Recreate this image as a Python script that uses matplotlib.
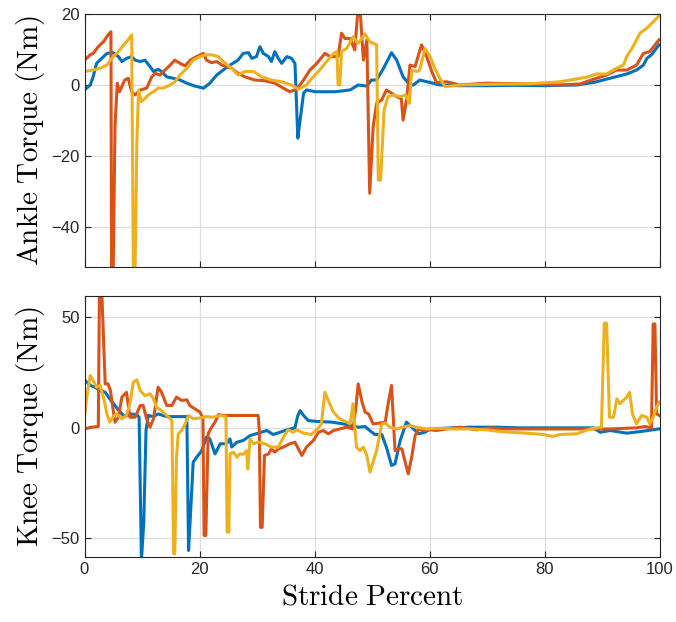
import matplotlib
matplotlib.use("Agg")
import matplotlib.pyplot as plt

# ---------------- data ----------------
stride_ticks = [0, 20, 40, 60, 80, 100]
ankle_ticks = [-40, -20, 0, 20]
knee_ticks = [-50, 0, 50]

# Ankle torque, series 1 (blue)
ankle1_x = [0, 1, 1.5, 2.1, 3, 3.9, 5, 5.9, 6.5, 7.3, 8.2, 8.8, 9.7, 10.5, 11.4, 12, 12.8, 13.4,
            14.3, 15.4, 16.6, 17.8, 19.2, 20.7, 21.8, 23, 24.1, 25.3, 26.7, 27.6, 28.5, 29.1, 29.9,
            30.5, 31.1, 32.0, 32.5, 33.1, 33.7, 34.3, 35.2, 36, 36.6, 37.1, 37.5, 38.1, 38.6, 40.1,
            43.6, 46.2, 47.6, 49.1, 49.9, 50.8, 52.0, 53.4, 54.3, 55.4, 56.6, 57.2, 58.3, 60.1, 61.8,
            65.3, 70, 75, 80, 85.6, 88.5, 91.4, 94.3, 96, 97.2, 97.8, 98.6, 99.9]
ankle1_y = [-1.4, 0, 2.3, 6.1, 7.5, 8.9, 9.1, 8, 6.6, 7.5, 8, 7, 6.6, 7, 5.2, 3.8, 4.4, 3.8,
            2.3, 1.9, 1.4, 0.5, -0.3, -0.9, 0.5, 2.8, 4.2, 5.6, 7, 8.9, 9.1, 7.5, 8,
            10.8, 8.9, 8, 6.6, 9.4, 7.5, 6.1, 8, 7.5, 6.1, -15, -9.9, -2.3, -1.4, -1.9,
            -1.9, -1.4, 0, -0.3, 1.4, 1.4, 4.7, 9.1, 7, 2.3, 0, 0, 1.4, 0.7, 0,
            -0.2, -0.2, -0.1, -0.2, 0, 0.7, 1.9, 3.1, 4.2, 5.6, 7.5, 8.5, 11.3]

# Ankle torque, series 2 (orange)
ankle2_x = [0, 1, 1.5, 2.4, 3.3, 4.1, 4.6, 4.7, 5.0, 5.3, 5.7, 6.1, 6.6, 7.0, 7.6, 8.2, 8.8, 9.7,
            10.8, 11.7, 12.3, 13.1, 14, 14.9, 15.7, 16.6, 17.5, 18.4, 19.5, 20.7, 21.2, 22.1, 23,
            23.9, 25.6, 26.7, 27.9, 29.6, 31.4, 33.1, 34.6, 35.7, 36.9, 38.1, 39.2, 40.4, 41.8,
            42.7, 44.1, 44.7, 45.3, 46.2, 47.0, 47.6, 47.9, 48.5, 49.1, 49.6, 50.2, 50.8, 51.7,
            52.5, 53.4, 54.3, 55.1, 55.4, 56.0, 56.6, 57.5, 58.6, 59.5, 60.4, 61.2, 63, 65.3,
            69.9, 76.9, 82.7, 86.2, 88.5, 90.8, 92.5, 94.3, 96, 97.2, 98.3, 99.9]
ankle2_y = [7, 8.5, 8.9, 10.8, 12.2, 14.1, 15, -52, -52, -11.7, 0.5, -1.9, 0, 1.4, 1.9, -1.9, -2.8, -1.4,
            -0.9, 2.3, 3.3, 2.8, 4.2, 5.6, 7, 6.1, 5.4, 7, 8, 8.9, 7, 6.3, 6.6,
            5.6, 4.7, 3.3, 2.3, 1.4, 1.2, 0.5, -0.9, -1.9, -1.2, 1.4, 4.2, 6.1, 8.9,
            8, 8, 14.6, 13.1, 13.1, 9.9, 22, 22, 7, 12.7, -30.5, -11.7, -5.2, -4.2,
            -1.4, -2.3, -3.3, -3.8, -9.9, -4.2, 5.6, 5.2, 11.3, 8, 3.8, 0.7, 0.9, 0,
            0.5, 0.3, 0, 0.3, 1.6, 2.8, 4.2, 4.2, 5.6, 8.9, 9.4, 12.7]

# Ankle torque, series 3 (yellow)
ankle3_x = [0, 1.5, 2.7, 3.9, 5, 5.9, 6.8, 7.6, 8.2, 8.5, 8.8, 9.1, 9.4, 9.9, 10.5, 11.1, 12, 12.8,
            13.7, 14.9, 15.7, 16.6, 17.8, 18.9, 20.1, 21, 22.1, 23.3, 24.1, 25.6, 26.7, 27.9,
            29.4, 30.8, 32.5, 34.3, 36, 37.2, 38.6, 39.8, 40.9, 42.1, 43.3, 43.9, 44.1, 44.4,
            44.7, 45.6, 46.7, 47.6, 48.8, 49.6, 50.8, 51.1, 51.5, 52.1, 52.8, 53.7, 54.9, 55.9,
            56.5, 56.9, 57.8, 58.3, 59.2, 60.1, 60.9, 61.8, 62.7, 65.3, 71.1, 76.9, 82.7, 87.3,
            89.1, 90.8, 92.5, 93.7, 94.3, 95.4, 96.6, 97.8, 98.9, 99.9]
ankle3_y = [3.8, 4.2, 4.7, 5.6, 8, 9.4, 11.3, 12.7, 14.1, -52, -52, -16.4, -1.4, -4.7, -3.8, -2.8, -1.9, -0.9,
            -0.9, 0, 0.9, 2.8, 4.7, 7, 8, 8.5, 8.5, 8, 6.6, 4.7, 2.8, 3.8,
            3.8, 2.3, 1.4, 0.9, 0, -1.2, 0, 2.3, 4.2, 6.6, 8.9, 9.4, 0, 0,
            9.4, 10.3, 13.6, 11.7, 14.4, 12.2, 11.3, -26.8, -26.8, -7, -3.3, -2.8, -3.3, -2.8,
            -5.2, 4.2, 3.8, 4.2, 10.3, 8, 4.7, 1.9, -0.5, 0, 0.2, 0.3, 0.9, 2.2,
            3.1, 3.1, 4.7, 5.6, 8, 10.8, 14.6, 16, 17.8, 19.4]

# Knee torque, series 1 (blue)
knee1_x = [0, 1, 1.8, 2.7, 3.6, 4.4, 5.3, 6.2, 7, 7.9, 9.1, 9.5, 9.9, 10.3, 10.7, 11.1, 12, 12.8,
           14.3, 16.6, 17.8, 18.1, 18.5, 18.9, 19.5, 20.4, 21.2, 21.8, 22.7, 23.6, 24.7, 25.3,
           25.6, 26.5, 27.6, 28.8, 30.2, 31.7, 32.8, 34, 35.2, 36.6, 37.1, 37.5, 38.1, 38.9,
           40.4, 43, 45.9, 47.6, 48.8, 49.6, 50.5, 51.7, 52.5, 53.4, 54, 54.9, 56, 56.9, 58.1,
           59.2, 60.1, 64.1, 67, 71.7, 75.7, 80, 88.5, 89.7, 91.4, 94.3, 97.2, 99.8]
knee1_y = [21.7, 19.2, 18.4, 16.9, 16.1, 13.1, 10.1, 7.1, 5.1, 6.3, 6, 4.8, -60, -43, -1.2, 5.6, 5.1, 6.3,
           5.1, 5.1, 5.1, -55.5, -35.9, -15.5, -13.3, -10.3, -4.2, -5, -11.8, -7.2, -7.2, -5,
           -8.7, -6.5, -5.7, -3.5, -2.4, -1.2, -3, -2, -0.9, 0, 5.6, 7.8, 5.6, 3.3,
           2.9, 2.6, 1.4, 0.3, 0.6, -1.2, -3, -3, -8.7, -17, -16.3, -5.7, 2.6, 0.3, -2.7,
           -2, -0.5, 0, 0.3, 0.3, 0, 0, 0, -2, -1.2, -2.4, -1.5, -0.5]

# Knee torque, series 2 (orange)
knee2_x = [0, 1.2, 2.4, 2.6, 3.0, 3.6, 4.1, 4.5, 5, 5.3, 5.9, 6.5, 7.3, 7.9, 8.8, 9.7, 10.2, 10.8,
           11.4, 12, 12.8, 13.4, 14.3, 15.2, 16, 16.9, 17.8, 18.3, 19.2, 20.1, 20.6, 20.8, 21.1,
           21.5, 22.1, 22.7, 23.3, 24.1, 27.3, 30.2, 30.4, 30.6, 30.9, 31.3, 32.0, 32.5, 33.1,
           33.7, 34.6, 35.7, 36.6, 37.8, 38.6, 39.8, 40.7, 41.5, 42.4, 43.3, 44.4, 45.6, 46.7,
           47.2, 47.6, 48.2, 48.8, 49.4, 50.2, 51.1, 52.3, 52.8, 53.4, 54, 54.6, 55.2, 55.7,
           56.3, 56.9, 57.5, 58.1, 58.9, 60.1, 61.2, 63, 65.3, 68.2, 70.5, 72.8, 80, 91.4, 96,
           97.5, 98.6, 98.9, 99.2, 99.5, 100]
knee2_y = [-0.5, 0.3, 0.6, 62, 62, 19.9, 19.9, 16.9, 7.8, 2.6, 4.8, 13.9, 16.1, 4.8, 4.8, 10.1, 10.1, 4.1,
           0.3, 4.1, 18.4, 16.1, 10.1, 10.1, 13.9, 12.4, 12.7, 10.1, 8.6, 7.1, 4.1, -48.7, -48.7,
           -2.7, 0.3, 2.6, 6, 5.6, 5.6, 5.6, -1.2, -45, -45, -12.5, -11.8, -9.5, -11,
           -9.5, -8.7, -7.2, -6.5, -12.5, -8.7, -5.7, -2, -1.2, -2.7, -1.2, -0.5, 0.3, -0.5,
           9.4, 19.9, 12.4, 7.1, 6.3, 1.8, 2.1, 2.6, 10.9, 19.2, -10.3, -9.5, -9.5, -14.8,
           -20.8, -13.3, -3.5, -0.5, -1.2, -0.9, -1.2, -0.5, 0.3, -0.9, 0, -0.5, -0.5, -0.5, 0,
           0.6, 0, 47, 47, 6.3, 5.6]

# Knee torque, series 3 (yellow)
knee3_x = [0, 0.4, 1, 1.5, 2.1, 2.7, 3.3, 3.9, 4.4, 5, 5.6, 6.5, 7.3, 7.9, 8.5, 9.1, 9.7, 10.5,
           11.4, 12, 12.5, 13.4, 14.3, 15.2, 15.5, 15.7, 16, 16.3, 16.9, 17.5, 18.1, 18.9, 20.1,
           21.2, 22.4, 23.6, 24.6, 24.8, 25.1, 25.3, 25.9, 26.5, 27, 27.6, 28.2, 28.4, 28.8,
           29.4, 30.2, 31.4, 32.5, 33.7, 34.6, 35.4, 36.3, 36.9, 38.1, 39.5, 40.7, 41.2, 41.8,
           42.4, 43.3, 44.4, 45.6, 46.2, 46.7, 47.3, 47.9, 48.5, 49.1, 49.65, 50.8, 51.7, 52.3,
           53.1, 54.3, 55.4, 56.6, 57.8, 59.5, 61.2, 64.1, 67, 69.9, 71.7, 74, 76.9, 79.8, 81.5,
           82.7, 85.6, 87.9, 89.9, 90.4, 90.8, 91.3, 92, 92.6, 93.1, 93.7, 94.3, 94.8, 95.3, 96,
           96.9, 97.8, 98.3, 98.9, 99.5, 100]
knee3_y = [5.1, 13.9, 23.7, 21.4, 18.4, 19.2, 13.9, 6.3, 2.6, 5.1, 6.3, 4.1, 5.6, 10.9, 20.7, 21.7, 16.9, 14.6,
           15.4, 13.1, 9.4, 7.8, 5.6, 3.3, -57, -57, -13.3, -2.7, -1.2, 1.8, 5.6, 4.1, 4.5,
           5.1, 4.8, 5.6, 5.1, -47.2, -47.2, -11.8, -11, -13.3, -11.8, -12, -10.3, -18.6, -5,
           -7.2, -6.5, -7.2, -8.7, -8.7, -4.2, -0.9, -2, -0.9, -2.4, -3, 0, 1.8, 16.1,
           12.4, 7.1, 4.1, 2.6, 1.8, 10.9, -8.7, -10.3, -8.7, -12.5, -20, -10.3, 1.8, 2.1,
           0.3, -0.5, 0.3, 1, 0.3, -0.5, -0.2, -0.5, -0.5, -0.9, -1.5, -2, -2.4, -3, -3.9,
           -3, -2.7, -0.5, 0.3, 47.4, 47.4, 4.8, 4.8, 13.1, 10.9, 12.4, 13.9, 16.1, 6.3, 1.8,
           5.6, 4.8, 1.8, 4.8, 9.4, 11.6]

# ---------------- styling ----------------
plt.rcParams['font.family'] = ['Liberation Sans', 'DejaVu Sans']
plt.rcParams['mathtext.fontset'] = 'cm'

colors = ['#0072BD', '#D95319', '#EDB120']
lw = 2.2
spine_c = '#262626'

fig = plt.figure(figsize=(6.76, 6.22), dpi=100)
ax1 = fig.add_axes([0.125, 0.5712, 0.8506, 0.4063])
ax2 = fig.add_axes([0.125, 0.105, 0.8506, 0.4196])

ax1.plot(ankle1_x, ankle1_y, color=colors[0], lw=lw)
ax1.plot(ankle2_x, ankle2_y, color=colors[1], lw=lw)
ax1.plot(ankle3_x, ankle3_y, color=colors[2], lw=lw)

ax2.plot(knee1_x, knee1_y, color=colors[0], lw=lw)
ax2.plot(knee2_x, knee2_y, color=colors[1], lw=lw)
ax2.plot(knee3_x, knee3_y, color=colors[2], lw=lw)

for ax in (ax1, ax2):
    ax.set_xlim(0, 100)
    ax.set_xticks(stride_ticks)
    ax.grid(True, color='#dedede', lw=0.9)
    ax.set_axisbelow(True)
    ax.tick_params(direction='in', top=True, right=True, length=4, width=0.8,
                   color=spine_c, labelsize=12, labelcolor='#262626')
    for s in ax.spines.values():
        s.set_color(spine_c)
        s.set_linewidth(0.8)

ax1.set_ylim(-51.2, 20)
ax1.set_yticks(ankle_ticks)
ax1.tick_params(labelbottom=False)
ax2.set_ylim(-58.3, 59.8)
ax2.set_yticks(knee_ticks)

ax1.set_ylabel(r'$\mathrm{Ankle\ Torque\ (Nm)}$', fontsize=21, labelpad=3)
ax2.set_ylabel(r'$\mathrm{Knee\ Torque\ (Nm)}$', fontsize=21, labelpad=3)
ax2.set_xlabel(r'$\mathrm{Stride\ Percent}$', fontsize=21, labelpad=4)

fig.savefig('out.png', dpi=100)
